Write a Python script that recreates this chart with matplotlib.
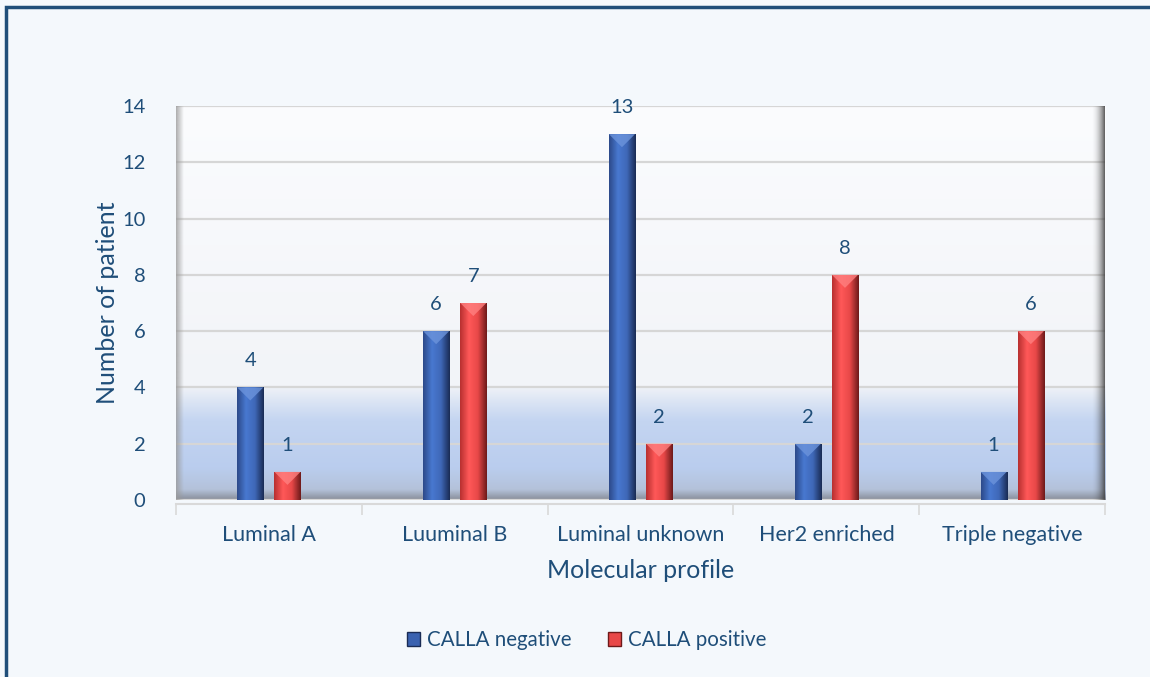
"""
CALLA expression by molecular profile
"""

import numpy as np
import matplotlib

matplotlib.use("Agg")
import matplotlib.pyplot as plt
from matplotlib.colors import LinearSegmentedColormap, to_rgb
from matplotlib.patches import Patch, Polygon, Rectangle

plt.rcParams["font.family"] = ["Lato", "DejaVu Sans"]

# data
categories = ["Luminal A", "Luuminal B", "Luminal unknown", "Her2 enriched", "Triple negative"]
calla_negative = [4, 6, 13, 2, 1]
calla_positive = [1, 7, 2, 8, 6]
series_names = ["CALLA negative", "CALLA positive"]

text_color = "#1F4E79"
bg_color = "#F4F8FC"


def gradient_bar(ax, bar, cols):
    """fill a bar with a horizontal gradient (fake bevel)"""
    x0, y0 = bar.get_x(), bar.get_y()
    w, h = bar.get_width(), bar.get_height()
    cmap = LinearSegmentedColormap.from_list("b", cols)
    img = ax.imshow(
        np.linspace(0, 1, 64).reshape(1, -1),
        extent=[x0, x0 + w, y0, y0 + h],
        cmap=cmap,
        aspect="auto",
        zorder=3,
        interpolation="bilinear",
    )
    img.set_clip_path(bar)


fig = plt.figure(figsize=(11.5, 6.77), dpi=100)
fig.patch.set_facecolor(bg_color)
ax = fig.add_axes([0.153, 0.2614, 0.808, 0.582])
ax.set_facecolor("#FAFBFD")

# wall gradient (blue band at the bottom)
wall = LinearSegmentedColormap.from_list(
    "wall",
    [
        (0.0, "#8A909C"),
        (0.025, "#B4C2DA"),
        (0.08, "#BACDEE"),
        (0.2, "#C4D5F1"),
        (0.25, "#DCE5F4"),
        (0.29, "#F2F4F8"),
        (1.0, "#FBFCFE"),
    ],
)
ax.imshow(
    np.linspace(0, 1, 256).reshape(-1, 1),
    extent=[0, 1, 0, 1],
    transform=ax.transAxes,
    origin="lower",
    cmap=wall,
    aspect="auto",
    zorder=0,
    interpolation="bilinear",
)

# side shading of the 3D wall
left = np.zeros((1, 32, 4))
left[..., :3] = to_rgb("#9A9A9A")
left[..., 3] = np.linspace(0.8, 0, 32)
ax.imshow(left, extent=[0, 0.008, 0, 1], transform=ax.transAxes,
          aspect="auto", zorder=1)
right = np.zeros((1, 32, 4))
right[..., :3] = to_rgb("#3A3A3A")
right[..., 3] = np.linspace(0, 0.9, 32) ** 2
ax.imshow(right, extent=[0.985, 1.0, 0, 1], transform=ax.transAxes,
          aspect="auto", zorder=1)

x = np.arange(len(categories))
width = 0.14
offset = 0.1

bars_neg = ax.bar(x - offset, calla_negative, width, color="#4472C4", zorder=2,
                  label=series_names[0])
bars_pos = ax.bar(x + offset, calla_positive, width, color="#FF4F4F", zorder=2,
                  label=series_names[1])

ax.set_xlim(-0.5, len(categories) - 0.5)
ax.set_ylim(0, 14)

px_x = ax.bbox.width / len(categories)
px_y = ax.bbox.height / 14
depth = width * px_x / 2 / px_y

for bars, cols, top in [
    (bars_neg, ["#2C4A8A", "#4878D0", "#3F68B8", "#1A2C55"], "#6C94DC"),
    (bars_pos, ["#B83030", "#FF5858", "#E84848", "#6E1A1A"], "#FF8080"),
]:
    for b in bars:
        gradient_bar(ax, b, cols)
        bx, bw, bh = b.get_x(), b.get_width(), b.get_height()
        d = min(depth, bh / 2)
        ax.add_patch(Polygon(
            [(bx, bh), (bx + bw, bh), (bx + bw / 2, bh - d)],
            closed=True, facecolor=top, edgecolor="none", alpha=0.8, zorder=4,
        ))
        ax.annotate(
            str(int(bh)),
            (bx + bw / 2, bh),
            xytext=(0, 13),
            textcoords="offset points",
            ha="center",
            va="bottom",
            fontsize=14.5,
            color=text_color,
        )

# grid
ax.set_yticks(range(0, 15, 2))
ax.yaxis.grid(True, color="#D6D6D6", linewidth=1.6, zorder=1)
ax.set_axisbelow(True)

for s in ["top", "right", "left"]:
    ax.spines[s].set_visible(False)
ax.spines["bottom"].set_color("#D9D9D9")
ax.spines["bottom"].set_linewidth(1.5)
ax.spines["bottom"].set_position(("outward", 3))

ax.set_xticks(np.arange(-0.5, len(categories), 1), minor=False)
ax.set_xticklabels([])
ax.set_xticks(x, minor=True)
ax.set_xticklabels(categories, minor=True, fontsize=15.5, color=text_color)
ax.tick_params(axis="x", which="major", length=8, color="#D9D9D9", width=1.2)
ax.tick_params(axis="x", which="minor", length=0, pad=15)
ax.tick_params(axis="y", length=0, labelsize=14.5, labelcolor=text_color, pad=22)

ax.set_xlabel("Molecular profile", fontsize=18, color=text_color, labelpad=10)
ax.set_ylabel("Number of patient", fontsize=18, color=text_color, labelpad=2)

handles = [
    Patch(facecolor="#3A62B0", edgecolor="#1A2C55", label=series_names[0]),
    Patch(facecolor="#E84848", edgecolor="#6E1A1A", label=series_names[1]),
]
fig.legend(
    handles=handles,
    loc="center",
    bbox_to_anchor=(0.51, 0.054),
    ncol=2,
    frameon=False,
    fontsize=14.8,
    labelcolor=text_color,
    handlelength=0.65,
    handleheight=0.65,
    handletextpad=0.3,
    columnspacing=1.8,
)

# outer border (left and top edges only visible)
fig.patches.append(Rectangle(
    (6 / 1150, -0.1), 1.2, 1 - 7 / 677 + 0.1,
    transform=fig.transFigure, fill=False, edgecolor=text_color, linewidth=2.5,
))

fig.savefig("out.png", dpi=100, facecolor=bg_color)
